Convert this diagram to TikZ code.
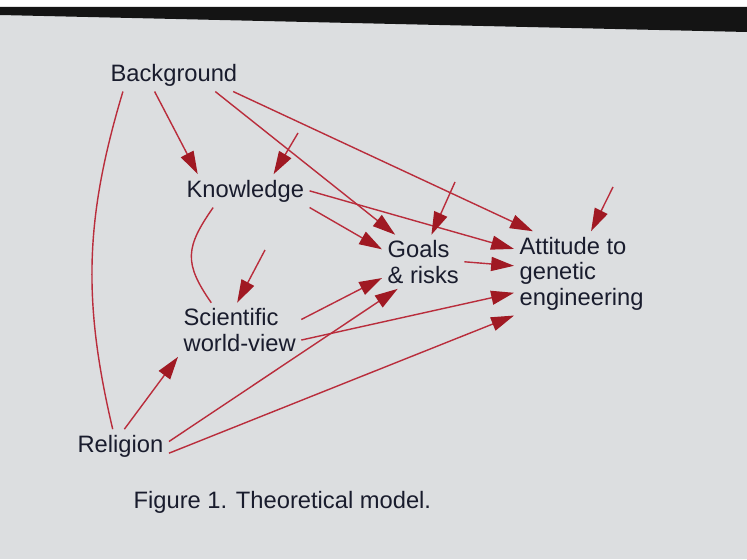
\documentclass[tikz,border=0pt]{standalone}
\usepackage{fontspec}
\setmainfont{Liberation Sans}
\usetikzlibrary{arrows.meta,calc}

\definecolor{linered}{RGB}{185,45,60}
\definecolor{headred}{RGB}{160,25,35}
\definecolor{inkblue}{RGB}{25,28,45}
\definecolor{screengrey}{RGB}{220,222,224}

\begin{document}
\begin{tikzpicture}[
  x=0.02cm,
  y=0.02cm,
  font=\fontsize{13.5}{14.5}\selectfont,
  concept/.style={text=inkblue,inner sep=3pt,anchor=base west,align=left},
  link/.style={draw=linered,line width=0.8pt},
  arrow/.style={link,-{Triangle[length=13pt,width=8pt,color=headred]}}
]

% =====================================================================
% Screen background (photo frame)
% =====================================================================
\useasboundingbox (0,0) rectangle (747,559);
\fill[screengrey] (0,0) rectangle (747,559);
\fill[white] (0,552) rectangle (747,559);
\fill[black!92] (0,552) -- (747,552) -- (747,527) -- (0,544) -- cycle;

% =====================================================================
% Concepts (base = baseline of the last line)
% =====================================================================
\node[concept] (bg)    at (105,478) {Background};
\node[concept] (kn)    at (181,362) {Knowledge};
\node[concept] (sci)   at (178,208) {Scientific\\world-view};
\node[concept] (rel)   at (72,107)  {Religion};
\node[concept] (goals) at (382,276) {Goals\\\& risks};
\node[concept] (att)   at (514,254) {Attitude to\\genetic\\engineering};

\node[concept] (cap)   at (128,51)  {Figure 1. Theoretical model.};

% free ends of the unexplained-influence arrows
\coordinate (ekn) at (298,426);
\coordinate (esc) at (265,309);
\coordinate (egl) at (455,377);
\coordinate (eat) at (613,372);

% =====================================================================
% Paths from Background
% =====================================================================
\draw[arrow] ($(bg.south west)!.36!(bg.south east)$) -- ($(kn.north west)!.13!(kn.north east)$);
\draw[arrow] ($(bg.south west)!.80!(bg.south east)$) -- ($(goals.north west)!.16!(goals.north east)$);
\draw[arrow] ($(bg.south west)!.93!(bg.south east)$) -- ($(att.north west)!.14!(att.north east)$);
\draw[link]  ($(bg.south west)!.13!(bg.south east)$) to[bend right=15] ($(rel.north west)!.42!(rel.north east)$);

% --- Knowledge ---
\draw[arrow] (kn.south east) -- ($(goals.north west)!.27!(goals.south west)$);
\draw[arrow] (kn.east) -- ($(att.north west)!.21!(att.south west)$);
\draw[link]  ($(kn.south west)!.25!(kn.south east)$) to[out=235,in=125,looseness=1.3]
             ($(sci.north west)!.27!(sci.north east)$);

% --- Scientific world-view ---
\draw[arrow] ($(sci.north east)!.31!(sci.south east)$) -- ($(goals.north west)!.80!(goals.south west)$);
\draw[arrow] ($(sci.north east)!.69!(sci.south east)$) -- ($(att.north west)!.73!(att.south west)$);

% --- Religion ---
\draw[arrow] ($(rel.north west)!.54!(rel.north east)$) -- (sci.south west);
\draw[arrow] ($(rel.north east)!.37!(rel.south east)$) -- ($(goals.south west)!.19!(goals.south east)$);
\draw[arrow] ($(rel.north east)!.72!(rel.south east)$) -- (att.south west);

% --- Goals & risks ---
\draw[arrow] (goals.east) -- ($(att.north west)!.41!(att.south west)$);

% --- unexplained influences ---
\draw[arrow] (ekn) -- ($(kn.north west)!.72!(kn.north east)$);
\draw[arrow] (esc) -- ($(sci.north west)!.48!(sci.north east)$);
\draw[arrow] (egl) -- ($(goals.north west)!.60!(goals.north east)$);
\draw[arrow] (eat) -- ($(att.north west)!.57!(att.north east)$);

\end{tikzpicture}
\end{document}
